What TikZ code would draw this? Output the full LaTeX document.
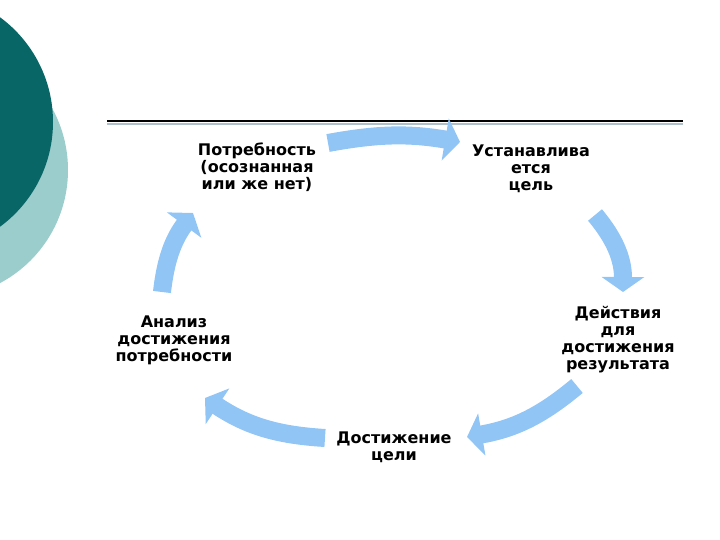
\documentclass[tikz,border=0pt]{standalone}
\usepackage{fontspec}
\setmainfont{DejaVu Sans}
\usetikzlibrary{arrows.meta}
\definecolor{tealdark}{RGB}{8,102,102}
\definecolor{teallight}{RGB}{155,205,205}
\definecolor{pfeilblau}{RGB}{145,197,246}
\definecolor{liniegrau}{RGB}{175,192,205}
\begin{document}
\begin{tikzpicture}[x=1pt, y=1pt, font=\bfseries\fontsize{16}{17}\selectfont,
    stufe/.style={align=center, text=black, inner sep=0pt},
    pfeil/.style={draw=pfeilblau, line width=18pt,
        -{Triangle[length=15pt, width=42pt]}}]
        \useasboundingbox (0,0) rectangle (720,-540);
        \clip (0,0) rectangle (720,-540);

        % Kreise links
        \fill[teallight] (-60,-170) circle (128);
        \fill[tealdark] (-77,-122) circle (130);

        % Linie oben
        \draw[liniegrau, line width=1.6pt] (107,-124) -- (683,-124);
        \draw[black, line width=1.2pt] (107,-121) -- (683,-121);

        % Stufen
        \node[stufe] (p) at (257,-167) {Потребность\\(осознанная\\или же нет)};
        \node[stufe] (u) at (531,-169) {Устанавлива\\ется\\цель};
        \node[stufe] (r) at (618,-340) {Действия\\для\\достижения\\результата};
        \node[stufe] (d) at (394,-447) {Достижение\\цели};
        \node[stufe] (a) at (174,-340) {Анализ\\достижения\\потребности};

        % Pfeile
        \draw[pfeil] ([shift={(71,24)}]p.center) to[bend left=10] ([shift={(-71,27)}]u.center);
        \draw[pfeil] ([shift={(64,-46)}]u.center) to[bend left=20] ([shift={(5,48)}]r.center);
        \draw[pfeil] ([shift={(-41,-46)}]r.center) to[bend left=15] ([shift={(73,10)}]d.center);
        \draw[pfeil] ([shift={(-69,9)}]d.center) to[bend left=15] ([shift={(31,-58)}]a.center);
        \draw[pfeil] ([shift={(-12,48)}]a.center) to[bend left=15] ([shift={(-64,-46)}]p.center);
\end{tikzpicture}
\end{document}
